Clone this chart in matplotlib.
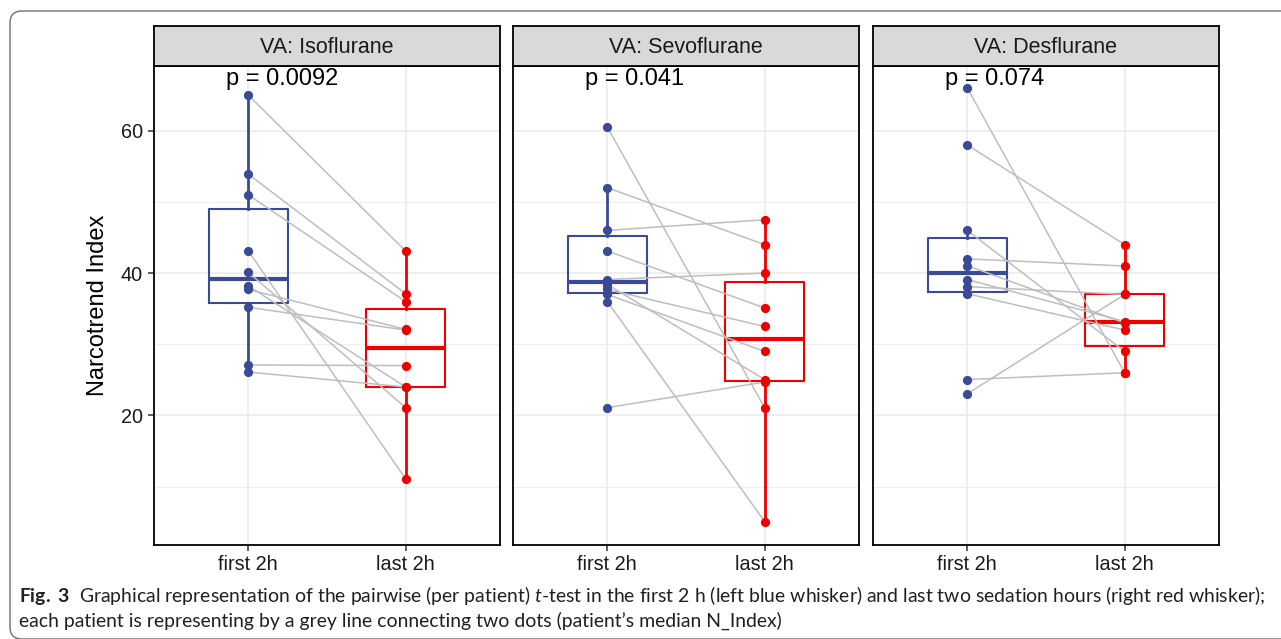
import matplotlib
matplotlib.use("Agg")
from matplotlib import pyplot as plt
from matplotlib.patches import FancyBboxPatch
from matplotlib.transforms import IdentityTransform

# data (one value per patient, same order in first/last)
groups = ["first 2h", "last 2h"]
panels = ["VA: Isoflurane", "VA: Sevoflurane", "VA: Desflurane"]
p_labels = ["p = 0.0092", "p = 0.041", "p = 0.074"]

iso_first = [65.0, 53.9, 51.0, 43.1, 40.1, 38.2, 37.7, 35.2, 27.1, 26.1]
iso_last = [43.1, 37.1, 36.0, 11.1, 21.1, 24.0, 32.1, 32.0, 27.0, 24.0]

sevo_first = [60.5, 52.0, 46.0, 43.1, 39.1, 38.4, 37.7, 37.0, 36.0, 21.1]
sevo_last = [21.1, 44.0, 47.5, 35.1, 40.0, 25.05, 32.5, 29.0, 5.1, 24.7]

des_first = [66.0, 58.0, 46.0, 42.0, 41.05, 39.1, 38.1, 37.1, 25.05, 23.05]
des_last = [26.0, 44.0, 29.0, 41.0, 33.0, 33.2, 37.0, 32.0, 26.0, 37.0]

data = [(iso_first, iso_last), (sevo_first, sevo_last), (des_first, des_last)]

caption1 = (r"$\mathbf{Fig.\ 3}$  Graphical representation of the pairwise (per patient) "
            r"$\mathit{t}$-test in the first 2 h (left blue whisker) and last two sedation hours "
            r"(right red whisker);")
caption2 = "each patient is representing by a grey line connecting two dots (patient’s median N_Index)"

blue = "#3B4A96"
red = "#EE0000"
grey_line = "#BEBEBE"

plt.rcParams["font.family"] = ["Liberation Sans", "DejaVu Sans"]
plt.rcParams["mathtext.fontset"] = "custom"
plt.rcParams["mathtext.rm"] = "Lato"
plt.rcParams["mathtext.it"] = "Lato:italic"
plt.rcParams["mathtext.bf"] = "Lato:bold"

W, H = 1281, 639
fig = plt.figure(figsize=(W / 100, H / 100), dpi=100)


def px(x0, y0, w, h):
    # pixel box measured from the top-left corner -> figure fraction
    return [x0 / W, 1 - (y0 + h) / H, w / W, h / H]


lefts = [154, 513, 873]
for k, (first, last) in enumerate(data):
    ax = fig.add_axes(px(lefts[k], 66, 346, 479))

    bp = ax.boxplot([first, last], positions=[1, 2], widths=0.5, whis=1.5,
                    showfliers=False, showcaps=False, manage_ticks=False, zorder=2)
    for i, col in enumerate([blue, red]):
        bp["boxes"][i].set(color=col, lw=1.5)
        bp["medians"][i].set(color=col, lw=3)
        for w in bp["whiskers"][2 * i:2 * i + 2]:
            w.set(color=col, lw=2)

    for f, l in zip(first, last):
        ax.plot([1, 2], [f, l], color=grey_line, lw=1.1, zorder=3)
    ax.scatter([1] * len(first), first, s=44, color=blue, linewidths=0, zorder=4)
    ax.scatter([2] * len(last), last, s=44, color=red, linewidths=0, zorder=4)

    ax.text(0.86, 67.3, p_labels[k], fontsize=17, ha="left", va="center", zorder=5)

    ax.set_xlim(0.4, 2.6)
    ax.set_ylim(1.8, 69.1)
    ax.set_xticks([1, 2])
    ax.set_xticklabels(groups)
    ax.set_yticks([20, 40, 60])
    ax.set_yticks([10, 30, 50], minor=True)
    ax.grid(which="major", color="#EBEBEB", lw=1.1)
    ax.grid(which="minor", axis="y", color="#EBEBEB", lw=0.6)
    ax.set_axisbelow(True)

    for s in ax.spines.values():
        s.set(color="black", lw=1.3)
    ax.tick_params(axis="x", length=4, width=1.1, pad=3.5, labelsize=14.3,
                   color="#333333", labelcolor="#1A1A1A")
    ax.tick_params(axis="y", which="minor", length=0)
    if k == 0:
        ax.tick_params(axis="y", length=4.5, width=1.1, pad=3.5, labelsize=14.3,
                       color="#333333", labelcolor="#1A1A1A")
    else:
        ax.tick_params(axis="y", length=0, labelleft=False)

    strip = fig.add_axes(px(lefts[k], 26, 346, 40))
    strip.set_facecolor("#D9D9D9")
    strip.set_xticks([])
    strip.set_yticks([])
    for s in strip.spines.values():
        s.set(color="black", lw=1.3)
    strip.text(0.5, 0.47, panels[k], fontsize=15.5, ha="center", va="center",
               color="#1A1A1A", transform=strip.transAxes)

fig.text(98 / W, 1 - 305 / H, "Narcotrend Index", rotation=90, fontsize=17,
         ha="center", va="center")

# rounded frame around figure + caption
frame = FancyBboxPatch((10, 0), 1400, 628, boxstyle="round,pad=0,rounding_size=12",
                       transform=IdentityTransform(), fill=False, ec="#6E6E6E", lw=1.0)
fig.patches.append(frame)

# caption: scale the font so the first line runs to the same right edge
cap_x0, cap_x1 = 19, 1265
renderer = fig.canvas.get_renderer()
t1 = fig.text(cap_x0 / W, 1 - 602 / H, caption1, fontsize=10, family="Lato",
              color="#231F20", ha="left", va="baseline")
bb = t1.get_window_extent(renderer)
fs = 10 * (cap_x1 - cap_x0) / bb.width
t1.set_fontsize(fs)
fig.text(cap_x0 / W, 1 - 627 / H, caption2, fontsize=fs, family="Lato",
         color="#231F20", ha="left", va="baseline")

fig.savefig("out.png", dpi=100)
